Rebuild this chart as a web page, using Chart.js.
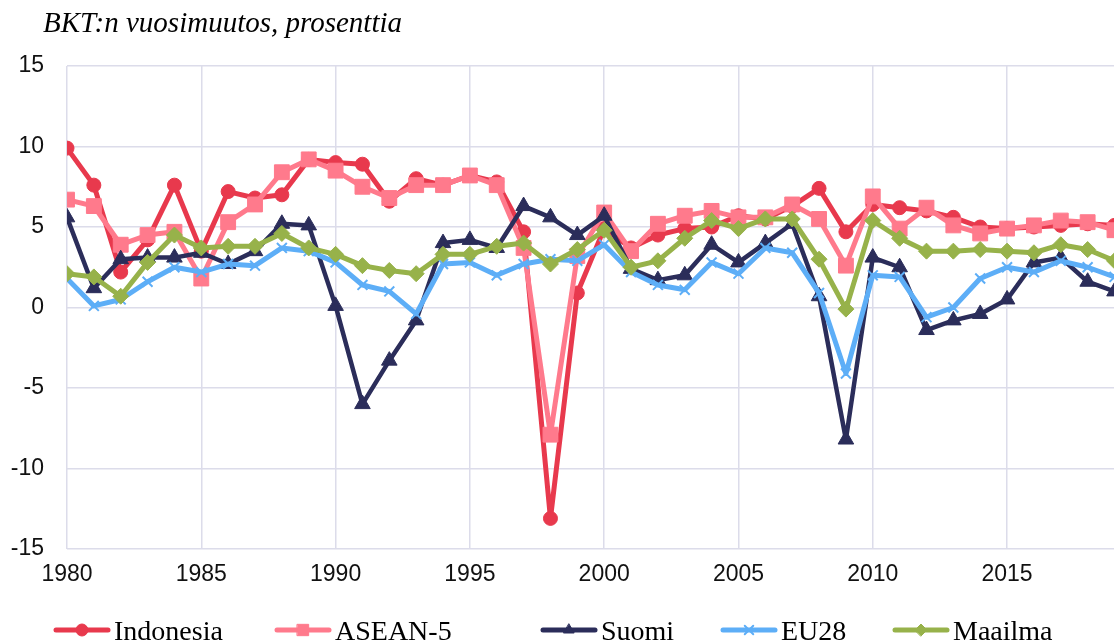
<!DOCTYPE html>
<html>
<head>
<meta charset="utf-8">
<title>BKT:n vuosimuutos</title>
<script src="https://cdn.jsdelivr.net/npm/chart.js@4.4.1/dist/chart.umd.min.js"></script>
<style>
  html, body { margin: 0; padding: 0; background: #fff; overflow: hidden; }
  #wrap { position: relative; width: 1126px; height: 643px; }
</style>
</head>
<body>
<div id="wrap"><canvas id="gdp-chart"></canvas></div>
<script>
// BKT:n vuosimuutos 1980-2019, prosenttia

const years = [];
for (let y = 1980; y <= 2019; y++) years.push(y);

const indonesia = [9.9, 7.6, 2.2, 4.2, 7.6, 3.5, 7.2, 6.8, 7.0, 9.2,
                   9.0, 8.9, 6.6, 8.0, 7.6, 8.2, 7.8, 4.7, -13.1, 0.9,
                   4.9, 3.7, 4.5, 4.9, 5.0, 5.7, 5.5, 6.3, 7.4, 4.7,
                   6.4, 6.2, 6.0, 5.6, 5.0, 4.9, 5.0, 5.1, 5.2, 5.1];
const asean5 = [6.7, 6.3, 3.9, 4.5, 4.7, 1.8, 5.3, 6.4, 8.4, 9.2,
                8.5, 7.5, 6.8, 7.6, 7.6, 8.2, 7.6, 3.7, -7.9, 3.2,
                5.9, 3.5, 5.2, 5.7, 6.0, 5.6, 5.6, 6.4, 5.5, 2.6,
                6.9, 4.9, 6.2, 5.1, 4.6, 4.9, 5.1, 5.4, 5.3, 4.8];
const suomi = [5.6, 1.2, 3.0, 3.1, 3.1, 3.4, 2.7, 3.5, 5.2, 5.1,
               0.1, -6.0, -3.3, -0.8, 4.0, 4.2, 3.7, 6.3, 5.6, 4.5,
               5.7, 2.4, 1.7, 2.0, 3.9, 2.8, 4.0, 5.2, 0.7, -8.2,
               3.1, 2.5, -1.4, -0.8, -0.4, 0.5, 2.8, 3.1, 1.6, 1.0];
const eu28 = [1.8, 0.1, 0.5, 1.6, 2.5, 2.2, 2.7, 2.6, 3.7, 3.5,
              2.8, 1.4, 1.0, -0.4, 2.7, 2.8, 2.0, 2.7, 3.0, 2.9,
              3.9, 2.2, 1.4, 1.1, 2.8, 2.1, 3.7, 3.4, 0.9, -4.1,
              2.0, 1.9, -0.6, 0.0, 1.8, 2.5, 2.2, 2.9, 2.5, 1.9];
const maailma = [2.1, 1.9, 0.7, 2.8, 4.5, 3.7, 3.8, 3.8, 4.6, 3.7,
                 3.3, 2.6, 2.3, 2.1, 3.3, 3.3, 3.8, 4.0, 2.7, 3.6,
                 4.8, 2.5, 2.9, 4.3, 5.4, 4.9, 5.5, 5.5, 3.0, -0.1,
                 5.4, 4.3, 3.5, 3.5, 3.6, 3.5, 3.4, 3.9, 3.6, 2.9];

const yTicks = [-15, -10, -5, 0, 5, 10, 15];
const xTicks = [1980, 1985, 1990, 1995, 2000, 2005, 2010, 2015];

const titleText = 'BKT:n vuosimuutos, prosenttia';
// selitteen kohteiden alkukohdat (px)
const legendX = [56, 277, 543, 723, 895];

function toPoints(values) {
  return values.map((v, i) => ({ x: years[i], y: v }));
}

function makeDataset(label, values, color, style, radius, order, extra) {
  return Object.assign({
    label: label,
    data: toPoints(values),
    borderColor: color,
    backgroundColor: color,
    borderWidth: 5,
    borderJoinStyle: 'round',
    borderCapStyle: 'round',
    pointStyle: style,
    pointRadius: radius,
    pointBackgroundColor: color,
    pointBorderColor: color,
    pointBorderWidth: 1,
    tension: 0,
    order: order
  }, extra || {});
}

const datasets = [
  makeDataset('Indonesia', indonesia, '#E8394D', 'circle', 7, 5),
  makeDataset('ASEAN-5', asean5, '#FF7A8C', 'rect', 10.5, 4),
  makeDataset('Suomi', suomi, '#2B2D5A', 'triangle', 9, 3, { borderWidth: 4.5 }),
  makeDataset('EU28', eu28, '#5DAEF7', 'crossRot', 7, 2, { pointBorderWidth: 2 }),
  makeDataset('Maailma', maailma, '#97B24A', 'rectRot', 8, 1)
];

// Otsikko ja selite piirretään itse
const titleLegendPlugin = {
  id: 'titleLegend',
  afterDraw(chart) {
    const ctx = chart.ctx;
    ctx.save();
    ctx.fillStyle = '#000';
    ctx.font = 'italic 29px "Liberation Serif", "DejaVu Serif", serif';
    ctx.textAlign = 'left';
    ctx.textBaseline = 'alphabetic';
    ctx.fillText(titleText, 43, 32);

    const ly = 630;
    chart.data.datasets.forEach((ds, i) => {
      const x0 = legendX[i];
      const x1 = x0 + 52;
      ctx.strokeStyle = ds.borderColor;
      ctx.fillStyle = ds.borderColor;
      ctx.lineWidth = 5;
      ctx.lineCap = 'round';
      ctx.beginPath();
      ctx.moveTo(x0, ly);
      ctx.lineTo(x1, ly);
      ctx.stroke();
      ctx.lineWidth = ds.pointStyle === 'crossRot' ? 2 : 1;
      Chart.helpers.drawPoint(ctx, {
        pointStyle: ds.pointStyle,
        radius: ds.pointStyle === 'rect' ? 8 : 6,
        rotation: 0,
        borderWidth: ctx.lineWidth
      }, (x0 + x1) / 2, ly);
      ctx.fillStyle = '#000';
      ctx.font = '28px "Liberation Serif", "DejaVu Serif", serif';
      ctx.fillText(ds.label, x1 + 6, 640);
    });
    ctx.restore();
  }
};

const chartElement = document.getElementById('gdp-chart');
const chart = new Chart(chartElement, {
  type: 'line',
  data: { datasets: datasets },
  plugins: [titleLegendPlugin],
  options: {
    responsive: true,
    maintainAspectRatio: false,
    animation: false,
    layout: { padding: { top: 66, left: 0, right: 0, bottom: 0 } },
    plugins: {
      legend: { display: false },
      title: { display: false },
      tooltip: { enabled: false }
    },
    scales: {
      x: {
        type: 'linear',
        min: 1980,
        max: 2019,
        afterFit(scale) {
          scale.height = 94;
          scale.paddingLeft = 0;
          scale.paddingRight = 0;
        },
        afterBuildTicks(scale) { scale.ticks = xTicks.map(v => ({ value: v })); },
        grid: { color: '#DCDCEA', lineWidth: 1.5, drawTicks: false },
        border: { display: false },
        ticks: {
          autoSkip: false,
          maxRotation: 0,
          padding: 12,
          color: '#111',
          font: { family: '"Liberation Sans", Arial, sans-serif', size: 23 },
          callback: v => String(v)
        }
      },
      y: {
        min: -15,
        max: 15,
        afterFit(scale) { scale.width = 67; },
        afterBuildTicks(scale) { scale.ticks = yTicks.map(v => ({ value: v })); },
        grid: { color: '#DCDCEA', lineWidth: 1.5, drawTicks: false },
        border: { display: false },
        ticks: {
          padding: 23,
          color: '#111',
          font: { family: '"Liberation Sans", Arial, sans-serif', size: 23 }
        }
      }
    }
  }
});
</script>
</body>
</html>
